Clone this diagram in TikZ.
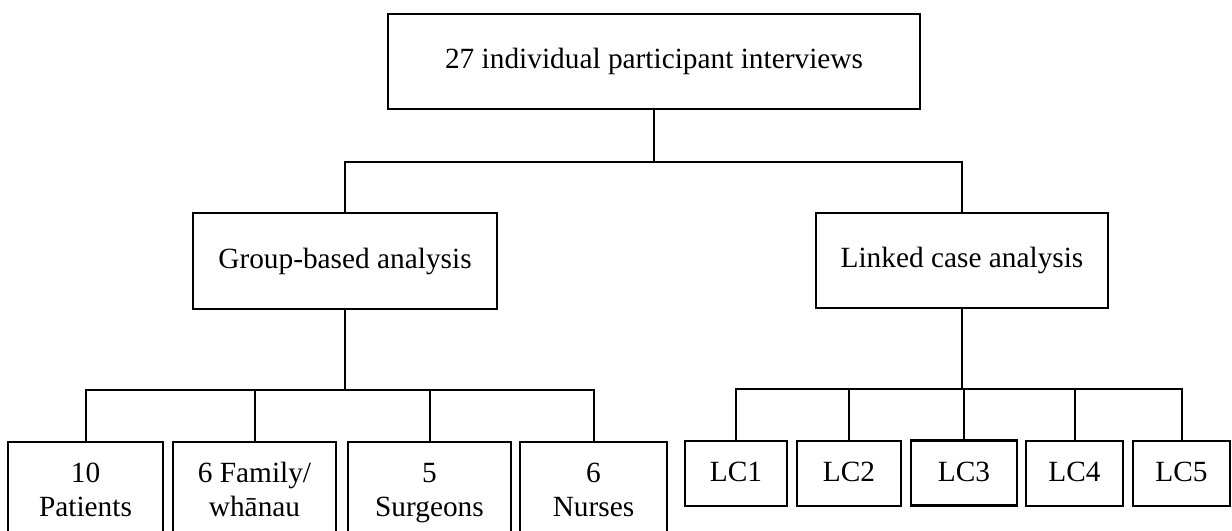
\documentclass[tikz,border=0pt]{standalone}
\usepackage{fontspec}
\setmainfont{Liberation Serif}
\begin{document}
\begin{tikzpicture}[x=0.75pt,y=-0.75pt,
  box/.style={draw=black,line width=1.9pt,rectangle,inner sep=0pt,align=center,
    font=\fontsize{22}{25.5}\selectfont},
  lowbox/.style={box,text depth=0.22em},
  link/.style={draw=black,line width=1.5pt}]
\useasboundingbox (0,0) rectangle (1232,531);
\clip (0,0) rectangle (1232,531);
\fill[white] (0,0) rectangle (1232,531);
% top
\node[box,minimum width=399pt,minimum height=71.25pt] (top) at (654,61.5) {27 individual participant interviews};
% second level
\node[box,minimum width=228pt,minimum height=72pt] (grp) at (345,261) {Group-based analysis};
\node[box,minimum width=219pt,minimum height=71.25pt] (lnk) at (962,260.5) {Linked case analysis};
% group children
\node[lowbox,minimum width=116.25pt,minimum height=73.5pt] (pat) at (85.5,491) {10\\Patients};
\node[lowbox,minimum width=122.25pt,minimum height=73.5pt] (fam) at (254.5,491) {6 Family/\\whānau};
\node[lowbox,minimum width=122.25pt,minimum height=73.5pt] (sur) at (429.5,491) {5\\Surgeons};
\node[lowbox,minimum width=110.25pt,minimum height=73.5pt] (nur) at (593.5,491) {6\\Nurses};
% linked children
\node[lowbox,minimum width=76.5pt,minimum height=48.75pt] (lc1) at (736,473.5) {LC1};
\node[lowbox,minimum width=78pt,minimum height=48.75pt] (lc2) at (849,473.5) {LC2};
\node[lowbox,minimum width=79.5pt,minimum height=48.75pt] (lc3) at (964,473) {LC3};
\node[lowbox,minimum width=72.75pt,minimum height=48.75pt] (lc4) at (1074.5,473.5) {LC4};
\node[lowbox,minimum width=72.75pt,minimum height=48.75pt] (lc5) at (1181.5,473.5) {LC5};
% branch points
\coordinate (b1) at (654,162);
\coordinate (b2) at (345,390);
\coordinate (b3) at (962,389);
% connectors
\draw[link] (top.south) -- (b1);
\draw[link] (grp.north) -- (grp.north |- b1) -- (lnk.north |- b1) -- (lnk.north);
\draw[link] (grp.south) -- (b2);
\draw[link] (pat.north) -- (pat.north |- b2) -- (nur.north |- b2) -- (nur.north);
\draw[link] (fam.north) -- (fam.north |- b2);
\draw[link] (sur.north) -- (sur.north |- b2);
\draw[link] (lnk.south) -- (b3);
\draw[link] (lc1.north) -- (lc1.north |- b3) -- (lc5.north |- b3) -- (lc5.north);
\draw[link] (lc2.north) -- (lc2.north |- b3);
\draw[link] (lc3.north) -- (lc3.north |- b3);
\draw[link] (lc4.north) -- (lc4.north |- b3);
\end{tikzpicture}
\end{document}
